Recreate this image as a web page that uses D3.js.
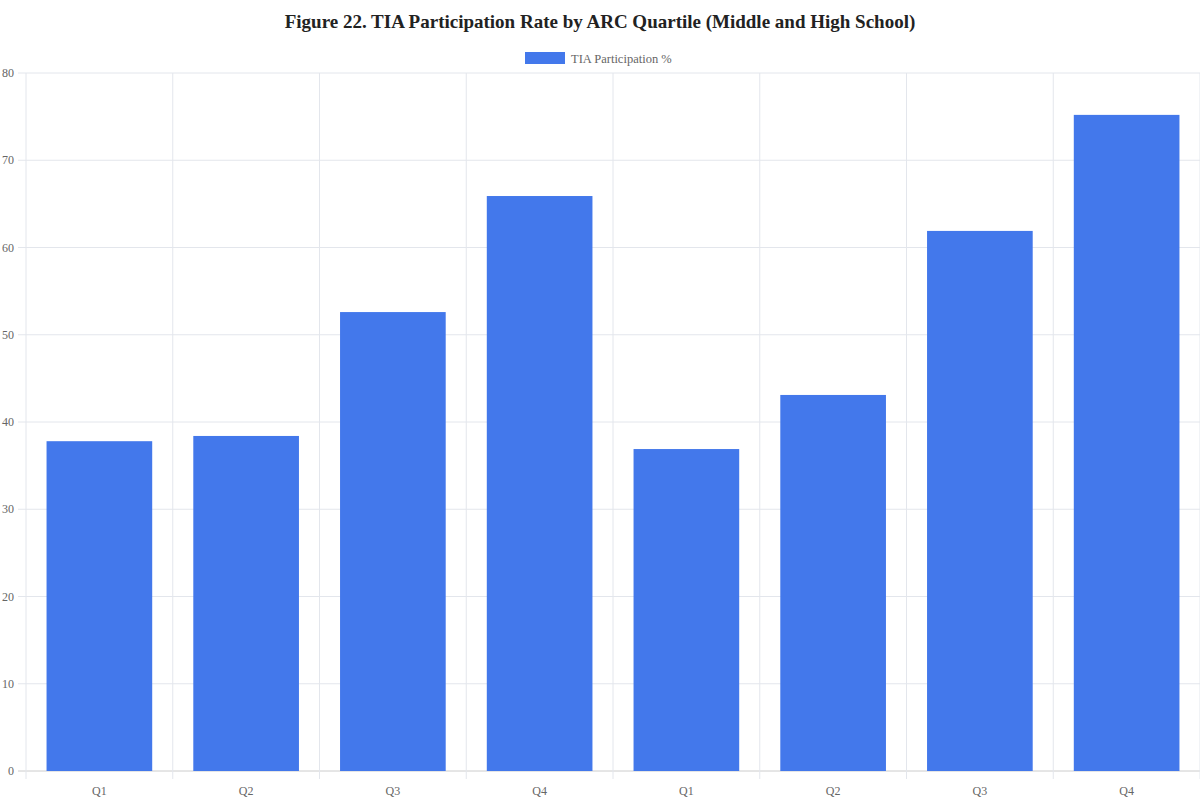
<!DOCTYPE html>
<html><head><meta charset="utf-8">
<script src="https://cdn.jsdelivr.net/npm/d3@7"></script>
<style>
body{margin:0;background:#fff;font-family:"Liberation Serif","DejaVu Serif",serif;}
</style></head>
<body><div class="chart"></div>
<script>
// data
const categories = ['Q1','Q2','Q3','Q4','Q1','Q2','Q3','Q4'];
const values = [37.8, 38.4, 52.6, 65.9, 36.9, 43.1, 61.9, 75.2];
const yTicks = [0,10,20,30,40,50,60,70,80];

const margin = {top: 73, right: 0, bottom: 29, left: 26};
const width = 1200 - margin.left - margin.right;
const height = 800 - margin.top - margin.bottom;

const root = d3.select('.chart').append('svg')
    .attr('width', 1200).attr('height', 800);

root.append('text')
    .attr('x', 600).attr('y', 28)
    .attr('text-anchor', 'middle')
    .attr('font-size', 19).attr('font-weight', 'bold')
    .attr('fill', '#222')
    .text('Figure 22. TIA Participation Rate by ARC Quartile (Middle and High School)');

// legend
root.append('rect').attr('x', 525).attr('y', 52).attr('width', 40).attr('height', 12)
    .attr('fill', '#4378eb');
root.append('text').attr('x', 571).attr('y', 62.5).attr('font-size', 12.5).attr('fill', '#666')
    .text('TIA Participation %');

const svg = root.append('g')
    .attr('transform', 'translate(' + margin.left + ',' + margin.top + ')');

const idx = d3.range(categories.length);
const xScale = d3.scaleBand().domain(idx).range([0, width]).paddingInner(0).paddingOuter(0);
const yScale = d3.scaleLinear().domain([0, 80]).range([height, 0]);

// grid
svg.selectAll('.hgrid').data(yTicks).enter().append('line')
    .attr('x1', -8).attr('x2', width)
    .attr('y1', d => yScale(d)).attr('y2', d => yScale(d))
    .attr('stroke', d => d === 0 ? '#ccc' : '#e3e6ec');
svg.selectAll('.vgrid').data(d3.range(categories.length + 1)).enter().append('line')
    .attr('x1', d => d * xScale.step()).attr('x2', d => d * xScale.step())
    .attr('y1', 0).attr('y2', height + 8)
    .attr('stroke', '#e3e6ec');

svg.selectAll('.ylab').data(yTicks).enter().append('text')
    .attr('x', -12).attr('y', d => yScale(d) + 4)
    .attr('text-anchor', 'end').attr('font-size', 12).attr('fill', '#666')
    .text(d => d);

const barW = xScale.bandwidth() * 0.72;
svg.selectAll('.bar').data(values).enter().append('rect')
    .attr('x', (d, i) => xScale(i) + (xScale.bandwidth() - barW) / 2)
    .attr('y', d => yScale(d))
    .attr('width', barW)
    .attr('height', d => height - yScale(d))
    .attr('fill', '#4378eb');

svg.selectAll('.xlab').data(categories).enter().append('text')
    .attr('x', (d, i) => xScale(i) + xScale.bandwidth() / 2)
    .attr('y', height + 24)
    .attr('text-anchor', 'middle').attr('font-size', 12).attr('fill', '#666')
    .text(d => d);
</script></body></html>
